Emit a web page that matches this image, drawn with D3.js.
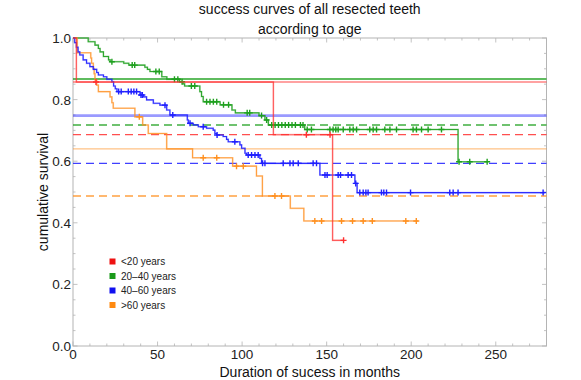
<!DOCTYPE html>
<html><head><meta charset="utf-8">
<script src="https://cdn.jsdelivr.net/npm/d3@7"></script>
<style>html,body{margin:0;padding:0;background:#fff;}svg{display:block;font-family:"Liberation Sans",Arial,sans-serif;}</style>
</head><body>
<svg id="chart" width="581" height="380"></svg>
<script>
// ---- data ----
const seriesNames = ["<20 years", "20\u201340 years", "40\u201360 years", ">60 years"];
const seriesColors = ["#ff3030", "#1fa01f", "#1f1fff", "#ff9020"];
const legendColors = ["#ee1111", "#1a9a1a", "#1010f0", "#ff8a10"];

// [time (months), survival after event]
const redEvents = [[2,0.857],[118.5,0.686],[153.5,0.343]];
const redCensors = [13.6,138,152,160];
const redEnd = 160;

const greenEvents = [[9,0.988],[13,0.977],[15,0.966],[16,0.955],[18,0.94],[21,0.929],[22,0.923],[30,0.918],[33,0.912],
  [42.5,0.905],[44,0.898],[45.5,0.891],[52.5,0.874],[55.5,0.866],[63,0.858],[65,0.851],[66,0.844],[75,0.826],[76,0.81],
  [77,0.793],[87,0.783],[94,0.766],[96,0.757],[110,0.748],[113.5,0.734],[115.5,0.7175],[137,0.703],[227.7,0.598]];
const greenCensors = [23,35,36.5,49,51,60,62,64.5,70,72,79,81,83,85,89,92,103,104.5,111.5,114.5,117.5,119.5,121.5,123.5,
  125.5,127.5,129.5,131.5,134.5,136,138.5,141,151.9,153.8,155.4,156.8,159.8,163.7,165.7,167.7,175.5,177.5,179.5,
  184.4,187.4,191.3,201.1,203.1,206.1,210,217.9,228.3,234.6,244.9];
const greenEnd = 245;

const blueEvents = [[1,0.985],[2,0.97],[3,0.955],[4,0.945],[6,0.929],[8,0.918],[10,0.907],[12,0.898],[14,0.888],[15,0.88],
  [18,0.874],[20,0.866],[23,0.858],[24,0.844],[25,0.835],[26,0.826],[39.6,0.815],[41.6,0.809],[43.5,0.799],[47.5,0.788],
  [51.4,0.782],[55.4,0.766],[57.3,0.75],[67.6,0.734],[68.2,0.723],[71.1,0.718],[74.1,0.712],[79,0.707],[82.9,0.701],
  [83.9,0.69],[84.9,0.685],[88.8,0.68],[90.8,0.671],[91.8,0.663],[98.7,0.653],[99.7,0.642],[101.7,0.626],[102.6,0.62],
  [110.5,0.609],[111.5,0.593],[146,0.555],[166.7,0.528],[168,0.498]];
const blueCensors = [27,28.5,32.7,34.4,36,37.6,40.2,41,54.4,59,69.2,77,85.2,95.7,103.6,105.6,107.6,109.5,112.1,113.5,
  124.3,128.3,130.2,133.2,142,144,149,150.3,156.8,158.2,162.7,164.7,167.2,169.6,171.6,173.2,174.5,182.4,183.8,185.4,
  199.6,222.8,224.8,227.7,278];
const blueEnd = 279;

const orangeEvents = [[2.5,0.952],[10.5,0.935],[11,0.918],[12,0.901],[12.5,0.884],[13,0.864],[14,0.847],[15,0.826],
  [21.9,0.809],[23,0.79],[23.8,0.772],[36.6,0.744],[41.2,0.7175],[44.5,0.69],[55.4,0.64],[70.7,0.611],[94.4,0.584],
  [108.5,0.552],[112,0.487],[128.5,0.447],[136.5,0.406]];
const orangeCensors = [39.2,77,85,96.7,100.7,119.4,123.3,143,147,158.8,165.3,171.6,177,196.8,203];
const orangeEnd = 204;

// reference levels: survival at 60 months (solid) and 120 months (dashed)
const solidLevels = [0.857, 0.867, 0.748, 0.64];
const dashedLevels = [0.686, 0.7175, 0.593, 0.487];

const xTicks = [0, 50, 100, 150, 200, 250];
const xMinor = d3.range(0, 281, 10);
const yTicks = [0, 0.2, 0.4, 0.6, 0.8, 1.0];
const yTickLabels = ["0.0", "0.2", "0.4", "0.6", "0.8", "1.0"];
const yMinor = d3.range(0, 1.0001, 0.05);

const titleLines = ["success curves of all resected teeth", "according to age"];
const xTitle = "Duration of sucess in months";
const yTitle = "cumulative survival";

// ---- layout ----
const L = 73, R = 546.5, T = 38, B = 346;
const x = d3.scaleLinear().domain([0, 280]).range([L, R]);
const y = d3.scaleLinear().domain([0, 1]).range([B, T]);
const svg = d3.select("#chart");
const frameCol = "#b4b4b4";

// frame
svg.append("rect").attr("x", L).attr("y", T).attr("width", R - L).attr("height", B - T)
  .attr("fill", "none").attr("stroke", frameCol).attr("stroke-width", 1);

// ticks on all sides
const tk = svg.append("g").attr("stroke", frameCol).attr("stroke-width", 0.8);
xMinor.forEach(v => {
  const major = xTicks.includes(v);
  const len = major ? 4.5 : 2.5;
  tk.append("line").attr("x1", x(v)).attr("x2", x(v)).attr("y1", B).attr("y2", B - len);
  tk.append("line").attr("x1", x(v)).attr("x2", x(v)).attr("y1", T).attr("y2", T + len);
});
yMinor.forEach(v => {
  const major = yTicks.some(t => Math.abs(t - v) < 1e-6);
  const len = major ? 4.5 : 2.5;
  tk.append("line").attr("y1", y(v)).attr("y2", y(v)).attr("x1", L).attr("x2", L + len);
  tk.append("line").attr("y1", y(v)).attr("y2", y(v)).attr("x1", R).attr("x2", R - len);
});

// tick labels
svg.append("g").selectAll("text").data(xTicks).join("text")
  .attr("x", d => x(d)).attr("y", 359).attr("text-anchor", "middle")
  .attr("font-size", 13.5).attr("fill", "#222").text(d => d);
svg.append("g").selectAll("text").data(yTicks).join("text")
  .attr("x", 71).attr("y", d => y(d) + 5).attr("text-anchor", "end")
  .attr("font-size", 13.5).attr("fill", "#222").text((d, i) => yTickLabels[i]);

// titles
svg.append("g").selectAll("text").data(titleLines).join("text")
  .attr("x", (L + R) / 2).attr("y", (d, i) => 13.5 + i * 20).attr("text-anchor", "middle")
  .attr("font-size", 14).attr("fill", "#111").text(d => d);
svg.append("text").attr("x", (L + R) / 2).attr("y", 377).attr("text-anchor", "middle")
  .attr("font-size", 14).attr("fill", "#111").text(xTitle);
svg.append("text").attr("transform", `translate(48,${(T + B) / 2}) rotate(-90)`).attr("text-anchor", "middle")
  .attr("font-size", 14).attr("fill", "#111").text(yTitle);

// reference lines
const refG = svg.append("g");
const solidStyle = [{w:1.4,o:0.6},{w:1.4,o:0.95},{w:2.6,o:0.45},{w:1.4,o:0.55}];
solidLevels.forEach((v, i) => {
  refG.append("line").attr("x1", L).attr("x2", R).attr("y1", y(v)).attr("y2", y(v))
    .attr("stroke", seriesColors[i]).attr("stroke-width", solidStyle[i].w).attr("stroke-opacity", solidStyle[i].o);
});
dashedLevels.forEach((v, i) => {
  refG.append("line").attr("x1", L).attr("x2", R).attr("y1", y(v)).attr("y2", y(v))
    .attr("stroke", seriesColors[i]).attr("stroke-width", 1.3).attr("stroke-opacity", 0.85)
    .attr("stroke-dasharray", "8,5");
});

// KM curves
const series = [
  {ev: redEvents, cen: redCensors, end: redEnd},
  {ev: greenEvents, cen: greenCensors, end: greenEnd},
  {ev: blueEvents, cen: blueCensors, end: blueEnd},
  {ev: orangeEvents, cen: orangeCensors, end: orangeEnd}
];
const line = d3.line().x(d => x(d[0])).y(d => y(d[1])).curve(d3.curveStepAfter);
const survAt = (ev, t) => { let s = 1; ev.forEach(e => { if (e[0] <= t) s = e[1]; }); return s; };
const opac = [0.7, 0.9, 0.9, 0.8];

[1, 3, 2, 0].forEach(i => {
  const s = series[i];
  const pts = [[0, 1], ...s.ev, [s.end, s.ev[s.ev.length - 1][1]]];
  const g = svg.append("g");
  g.append("path").attr("d", line(pts)).attr("fill", "none")
    .attr("stroke", seriesColors[i]).attr("stroke-width", 1.8).attr("stroke-opacity", 0.3);
  g.append("path").attr("d", line(pts)).attr("fill", "none")
    .attr("stroke", seriesColors[i]).attr("stroke-width", 1.1).attr("stroke-opacity", opac[i]);
  const h = 3;
  g.selectAll("path.c").data(s.cen).join("path").attr("class", "c")
    .attr("d", t => { const cx = x(t), cy = y(survAt(s.ev, t));
      return `M${cx - h},${cy}H${cx + h}M${cx},${cy - h}V${cy + h}`; })
    .attr("stroke", seriesColors[i]).attr("stroke-width", 1.4).attr("fill", "none");
});

// legend
const lg = svg.append("g");
const legY = [261.5, 276, 290.5, 305];
seriesNames.forEach((n, i) => {
  lg.append("rect").attr("x", 109.5).attr("y", legY[i] - 3).attr("width", 6).attr("height", 6)
    .attr("fill", legendColors[i]);
  lg.append("text").attr("x", 121).attr("y", legY[i] + 3.5).attr("font-size", 10).attr("fill", "#222").text(n);
});
</script>
</body></html>
